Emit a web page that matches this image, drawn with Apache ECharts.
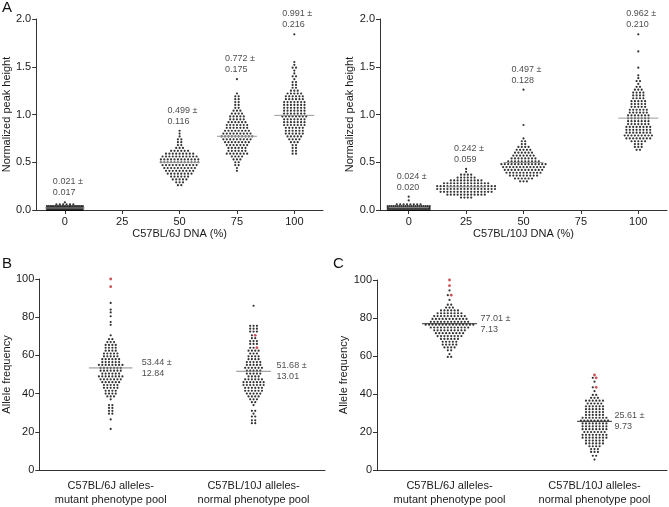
<!DOCTYPE html>
<html><head><meta charset="utf-8">
<script src="https://cdn.jsdelivr.net/npm/echarts@6/dist/echarts.min.js"></script>
<style>html,body{margin:0;padding:0;background:#fff}#c{width:669px;height:507px}</style>
</head><body><div id="c"></div>
<script>
// ---------- DATA ----------
const ticksA = [0, 25, 50, 75, 100];
const centersA6 = [0, 50, 75, 100];
const centersA10 = [0, 25, 50, 100];
const catsBC = ['C57BL/6J alleles-\nmutant phenotype pool', 'C57BL/10J alleles-\nnormal phenotype pool'];

const meansA6 = [0.021, 0.499, 0.772, 0.991];
const sdsA6 = [0.017, 0.116, 0.175, 0.216];
const meansA10 = [0.024, 0.242, 0.497, 0.962];
const sdsA10 = [0.020, 0.059, 0.128, 0.210];
const meansB = [53.44, 51.68];
const sdsB = [12.84, 13.01];
const meansC = [77.01, 25.61];
const sdsC = [7.13, 9.73];

const a6_0 = [0.08,
 0.06,0.06,0.06,0.06,0.06,0.06,
 0.04,0.04,0.04,0.04,0.04,0.04,0.04,0.04,0.04,0.04,0.04,0.04,0.04,0.04,0.04,0.04,0.04,0.04,0.04,0.04,0.04,0.04,
 0.02,0.02,0.02,0.02,0.02,0.02,0.02,0.02,0.02,0.02,0.02,0.02,0.02,0.02,0.02,0.02,0.02,0.02,0.02,0.02,0.02,0.02,0.02,0.02,0.02,0.02,0.02,0.02,0.02,0.02,0.02,0.02,0.02,0.02,0.02,
 0,0,0,0,0,0,0,0,0,0,0,0,0,0,0,0,0,0,0,0,0,0,0,0,0,0,0,0,0,0];
const a6_50 = [0.83, 0.80, 0.77, 0.74,0.74, 0.71,0.71, 0.68,0.68, 0.65,0.65,0.65,
 0.62,0.62,0.62,0.62,0.62,0.62,
 0.59,0.59,0.59,0.59,0.59,0.59,0.59,0.59,0.59,
 0.56,0.56,0.56,0.56,0.56,0.56,0.56,0.56,0.56,0.56,0.56,
 0.53,0.53,0.53,0.53,0.53,0.53,0.53,0.53,0.53,0.53,0.53,0.53,
 0.50,0.50,0.50,0.50,0.50,0.50,0.50,0.50,0.50,0.50,0.50,0.50,
 0.47,0.47,0.47,0.47,0.47,0.47,0.47,0.47,0.47,0.47,0.47,
 0.44,0.44,0.44,0.44,0.44,0.44,0.44,0.44,0.44,0.44,
 0.41,0.41,0.41,0.41,0.41,0.41,0.41,0.41,0.41,
 0.38,0.38,0.38,0.38,0.38,0.38,0.38,0.38,
 0.35,0.35,0.35,0.35,0.35,0.35,
 0.32,0.32,0.32,0.32,0.32,
 0.29,0.29,0.29, 0.26,0.26];
const a6_75 = [1.37, 1.22, 1.19,1.19, 1.16,1.16, 1.13,1.13, 1.10,1.10, 1.07,1.07, 1.04,1.04,1.04,
 1.01,1.01,1.01,1.01, 0.98,0.98,0.98,0.98,0.98, 0.95,0.95,0.95,0.95,0.95,
 0.92,0.92,0.92,0.92,0.92,0.92, 0.89,0.89,0.89,0.89,0.89,0.89,0.89,
 0.86,0.86,0.86,0.86,0.86,0.86,0.86, 0.83,0.83,0.83,0.83,0.83,0.83,0.83,0.83,
 0.80,0.80,0.80,0.80,0.80,0.80,0.80,0.80,0.80,
 0.77,0.77,0.77,0.77,0.77,0.77,0.77,0.77,0.77,0.77,
 0.74,0.74,0.74,0.74,0.74,0.74,0.74,0.74,0.74,
 0.71,0.71,0.71,0.71,0.71,0.71,0.71,0.71,
 0.68,0.68,0.68,0.68,0.68,0.68,0.68,
 0.65,0.65,0.65,0.65,0.65,0.65, 0.62,0.62,0.62,0.62,0.62,0.62,
 0.59,0.59,0.59,0.59,0.59,0.59,0.59, 0.56,0.56,0.56,0.56,
 0.53,0.53,0.53, 0.50,0.50, 0.47,0.47, 0.44, 0.41];
const a6_100 = [1.84, 1.55, 1.52, 1.49,1.49, 1.46, 1.43, 1.40,1.40, 1.37, 1.34,1.34, 1.31,1.31, 1.28,1.28,
 1.25,1.25,1.25, 1.22,1.22,1.22,1.22,1.22, 1.19,1.19,1.19,1.19,1.19,1.19, 1.16,1.16,1.16,1.16,1.16,1.16,
 1.13,1.13,1.13,1.13,1.13,1.13,1.13, 1.10,1.10,1.10,1.10,1.10,1.10,1.10,
 1.07,1.07,1.07,1.07,1.07,1.07,1.07, 1.04,1.04,1.04,1.04,1.04,1.04,1.04,
 1.01,1.01,1.01,1.01,1.01,1.01,1.01, 0.98,0.98,0.98,0.98,0.98,0.98,0.98,0.98,
 0.95,0.95,0.95,0.95,0.95,0.95,0.95, 0.92,0.92,0.92,0.92,0.92,0.92,0.92,
 0.89,0.89,0.89,0.89,0.89,0.89,0.89, 0.86,0.86,0.86,0.86,0.86,0.86,
 0.83,0.83,0.83,0.83,0.83,0.83, 0.80,0.80,0.80,0.80,0.80,0.80,
 0.77,0.77,0.77,0.77,0.77, 0.74,0.74,0.74,0.74, 0.71,0.71,0.71,
 0.68,0.68, 0.65,0.65, 0.62,0.62, 0.59,0.59];

const a10_0 = [0.14, 0.10,
 0.06,0.06,0.06,0.06,0.06,0.06,0.06,0.06,
 0.04,0.04,0.04,0.04,0.04,0.04,0.04,0.04,0.04,0.04,0.04,0.04,0.04,0.04,0.04,0.04,0.04,0.04,0.04,0.04,0.04,0.04,
 0.02,0.02,0.02,0.02,0.02,0.02,0.02,0.02,0.02,0.02,0.02,0.02,0.02,0.02,0.02,0.02,0.02,0.02,0.02,0.02,0.02,0.02,0.02,0.02,0.02,0.02,0.02,0.02,0.02,0.02,0.02,0.02,0.02,
 0,0,0,0,0,0,0,0,0,0,0,0,0,0,0,0,0,0,0,0,0,0,0,0,0,0,0,0];
const a10_25 = [0.43, 0.40, 0.37,0.37,0.37,0.37, 0.34,0.34,0.34,0.34,0.34,0.34,
 0.31,0.31,0.31,0.31,0.31,0.31,0.31,0.31,0.31,0.31,
 0.28,0.28,0.28,0.28,0.28,0.28,0.28,0.28,0.28,0.28,0.28,0.28,0.28,0.28,
 0.25,0.25,0.25,0.25,0.25,0.25,0.25,0.25,0.25,0.25,0.25,0.25,0.25,0.25,0.25,0.25,0.25,0.25,
 0.22,0.22,0.22,0.22,0.22,0.22,0.22,0.22,0.22,0.22,0.22,0.22,0.22,0.22,0.22,0.22,0.22,0.22,
 0.19,0.19,0.19,0.19,0.19,0.19,0.19,0.19,0.19,0.19,0.19,0.19,0.19,0.19,0.19,0.19,
 0.16,0.16,0.16,0.16,0.16,0.16,0.16,0.16,0.16,0.16,0.16,0.16,
 0.13,0.13,0.13,0.13];
const a10_50 = [1.26, 0.89, 0.75, 0.72,0.72, 0.69,0.69, 0.66,0.66,0.66,0.66, 0.63,0.63,0.63,0.63,0.63,
 0.60,0.60,0.60,0.60,0.60,0.60, 0.57,0.57,0.57,0.57,0.57,0.57,0.57,
 0.54,0.54,0.54,0.54,0.54,0.54,0.54,0.54, 0.51,0.51,0.51,0.51,0.51,0.51,0.51,0.51,0.51,0.51,
 0.48,0.48,0.48,0.48,0.48,0.48,0.48,0.48,0.48,0.48,0.48,0.48,0.48,0.48,
 0.45,0.45,0.45,0.45,0.45,0.45,0.45,0.45,0.45,0.45,0.45,0.45,0.45,
 0.42,0.42,0.42,0.42,0.42,0.42,0.42,0.42,0.42,0.42,0.42,0.42,
 0.39,0.39,0.39,0.39,0.39,0.39,0.39,0.39,0.39,0.39,0.39,
 0.36,0.36,0.36,0.36,0.36,0.36,0.36,0.36,0.36,
 0.33,0.33,0.33,0.33,0.33,0.33, 0.30,0.30,0.30];
const a10_100 = [1.84, 1.66, 1.49, 1.41, 1.38, 1.35,1.35, 1.32, 1.29,1.29, 1.26,1.26,1.26,
 1.23,1.23,1.23,1.23, 1.20,1.20,1.20,1.20, 1.17,1.17,1.17,1.17,
 1.14,1.14,1.14,1.14,1.14, 1.11,1.11,1.11,1.11,1.11, 1.08,1.08,1.08,1.08,1.08,
 1.05,1.05,1.05,1.05,1.05,1.05, 1.02,1.02,1.02,1.02,1.02,1.02,
 0.99,0.99,0.99,0.99,0.99,0.99,0.99, 0.96,0.96,0.96,0.96,0.96,0.96,0.96,
 0.93,0.93,0.93,0.93,0.93,0.93,0.93, 0.90,0.90,0.90,0.90,0.90,0.90,0.90,
 0.87,0.87,0.87,0.87,0.87,0.87,0.87,0.87, 0.84,0.84,0.84,0.84,0.84,0.84,0.84,0.84,
 0.81,0.81,0.81,0.81,0.81,0.81,0.81,0.81, 0.78,0.78,0.78,0.78,0.78,0.78,0.78,0.78,0.78,
 0.75,0.75,0.75,0.75,0.75,0.75,0.75,0.75, 0.72,0.72,0.72,0.72,0.72,
 0.69,0.69,0.69, 0.66,0.66,0.66, 0.63,0.63];

const bMut = [87.5, 84, 82.5, 80.5, 77.5, 76, 70.5, 68.5,68.5, 67,67,67, 65.5,65.5,65.5,65.5,
 64,64,64,64, 62.5,62.5,62.5,62.5, 61,61,61,61,61, 59.5,59.5,59.5,59.5,59.5,
 58,58,58,58,58,58, 56.5,56.5,56.5,56.5,56.5,56.5, 55,55,55,55,55,55,55,55,
 53.5,53.5,53.5,53.5,53.5,53.5,53.5, 52,52,52,52,52,52,52, 50.5,50.5,50.5,50.5,50.5,50.5,
 49,49,49,49,49,49,49,49, 47.5,47.5,47.5,47.5,47.5,47.5,47.5, 46,46,46,46,46,46,
 44.5,44.5,44.5,44.5,44.5, 43,43,43,43,43, 41.5,41.5,41.5,41.5, 40,40,40,40,
 38.5,38.5,38.5, 37, 34,34, 32.5,32.5, 31,31, 29.5,29.5, 26.5, 21.5];
const bMutRed = [100, 96];
const bNorm = [86, 75.5,75.5,75.5, 74,74,74, 72.5,72.5,72.5, 70.5, 69,69, 67.5,67.5,67.5, 66,66,66,
 64,64, 62.5,62.5,62.5,62.5, 61,61,61, 59.5,59.5,59.5,59.5, 58,58,58,58,
 56.5,56.5,56.5,56.5,56.5, 55,55,55,55,55, 53.5,53.5,53.5,53.5,53.5,53.5,
 52,52,52,52,52, 50.5,50.5,50.5,50.5,50.5, 49,49,49,49,
 47.5,47.5,47.5,47.5,47.5,47.5, 46,46,46,46,46,46,46, 44.5,44.5,44.5,44.5,44.5,44.5,44.5,
 43,43,43,43,43,43, 41.5,41.5,41.5,41.5,41.5,41.5, 40,40,40,40,40,
 38.5,38.5,38.5,38.5, 37,37,37, 35.5,35.5, 34, 31,31, 29.5, 28,28, 26,26, 24.5,24.5];
const bNormRed = [70.5, 64];

const cMut = [94.5, 92, 89.5, 87,87, 85.5,85.5,85.5, 84,84,84,84,84,84,
 82.5,82.5,82.5,82.5,82.5,82.5,82.5,82.5, 81,81,81,81,81,81,81,81,81,81,
 79.5,79.5,79.5,79.5,79.5,79.5,79.5,79.5,79.5,79.5,79.5,
 78,78,78,78,78,78,78,78,78,78,78,78,
 76.5,76.5,76.5,76.5,76.5,76.5,76.5,76.5,76.5,76.5,76.5,76.5,76.5,76.5,76.5,
 75,75,75,75,75,75,75,75,75,75,75,75,
 73.5,73.5,73.5,73.5,73.5,73.5,73.5,73.5,73.5,73.5,
 72,72,72,72,72,72,72,72,72, 70.5,70.5,70.5,70.5,70.5,70.5,70.5,70.5,
 69,69,69,69,69,69, 67.5,67.5,67.5,67.5,67.5, 66,66,66,66,66,
 64.5,64.5,64.5,64.5, 63,63, 61, 59.5,59.5];
const cMutRed = [100, 97, 92];
const cNorm = [48.5, 46.5, 43.5, 41.5, 39.5,39.5, 38,38,38, 36.5,36.5,36.5,36.5,36.5,36.5,
 35,35,35,35,35, 33.5,33.5,33.5,33.5,33.5,33.5, 32,32,32,32,32,32,
 30.5,30.5,30.5,30.5,30.5,30.5, 29,29,29,29,29,29, 27.5,27.5,27.5,27.5,27.5,27.5,27.5,27.5,
 26,26,26,26,26,26,26,26,26, 24.5,24.5,24.5,24.5,24.5,24.5,24.5,24.5,
 23,23,23,23,23,23,23,23, 21.5,21.5,21.5,21.5,21.5,21.5,21.5,21.5,
 20,20,20,20,20,20,20, 18.5,18.5,18.5,18.5,18.5,18.5,18.5,18.5,
 17,17,17,17,17,17,17,17, 15.5,15.5,15.5,15.5,15.5,15.5, 14,14,14,14,14,14,
 12.5,12.5,12.5,12.5, 11,11,11, 9.5,9.5,9.5, 7.5,7.5, 5.5];
const cNormRed = [50, 48.5, 43.5];

// ---------- LAYOUT ----------
const FONT = '"Liberation Sans", Arial, Helvetica, sans-serif';
const TXT = '#1a1a1a';
const SP = 3.4;      // horizontal dot spacing, px
const DOT = 2.2;     // dot size, px
const grids = [
  {left: 36, top: 19, width: 287, height: 191},
  {left: 380, top: 19, width: 287, height: 191},
  {left: 36, top: 279, width: 289, height: 192},
  {left: 377, top: 280, width: 290, height: 191}
];
const pxA6 = 287 / 125, pxA10 = 287 / 125, pxB = 289 / 2, pxC = 290 / 2;

function swarm(black, red, center, ppu, maxHalf) {
  const rows = new Map();
  black.forEach(v => { const k = v.toFixed(3); if (!rows.has(k)) rows.set(k, []); rows.get(k).push({v, r: false}); });
  red.forEach(v => { const k = v.toFixed(3); if (!rows.has(k)) rows.set(k, []); rows.get(k).push({v, r: true}); });
  const b = [], r = [];
  rows.forEach(list => {
    const n = list.length;
    let dx = SP;
    if (n > 1 && (n - 1) * dx / 2 > maxHalf) dx = 2 * maxHalf / (n - 1);
    list.forEach((p, i) => {
      const x = center + ((i - (n - 1) / 2) * dx) / ppu;
      (p.r ? r : b).push([x, p.v]);
    });
  });
  return {b, r};
}

function panel(gi, cfg) {
  const bl = [], rd = [];
  cfg.centers.forEach((c, g) => {
    const s = swarm(cfg.blacks[g], cfg.reds[g], c, cfg.ppu, cfg.maxHalf[g]);
    bl.push(...s.b); rd.push(...s.r);
  });
  const base = {xAxisIndex: gi, yAxisIndex: gi, silent: true, animation: false};
  const out = [];
  out.push(Object.assign({type: 'scatter', data: bl, symbol: 'circle', symbolSize: DOT, clip: false,
    itemStyle: {color: '#000'}}, base));
  if (rd.length) out.push(Object.assign({type: 'scatter', data: rd, symbol: 'circle', symbolSize: DOT + 0.6, clip: false,
    itemStyle: {color: '#c1272d'}, z: 3}, base));
  cfg.centers.forEach((c, g) => {
    const hw = cfg.lineHalf[g] / cfg.ppu;
    out.push(Object.assign({type: 'line', data: [[c - hw, cfg.means[g]], [c + hw, cfg.means[g]]], symbol: 'none',
      lineStyle: {color: cfg.lineColor, width: 1}, z: 4}, base));
  });
  const ann = cfg.centers.map((c, g) => {
    const txt = cfg.means[g].toFixed(cfg.digits) + ' \u00b1\n' + cfg.sds[g].toFixed(cfg.digits);
    if (cfg.annTop) {
      const top = Math.max(...cfg.blacks[g], ...cfg.reds[g]);
      return {value: [c, top], label: {show: true, position: 'top', distance: 4, align: 'left', offset: [-12, 0], formatter: txt}};
    }
    return {value: [c, cfg.means[g]], label: {show: true, position: 'right', distance: cfg.annDx[g], align: 'left', verticalAlign: 'middle', formatter: txt}};
  });
  out.push(Object.assign({type: 'scatter', data: ann, symbolSize: 0.1, clip: false, z: 5,
    itemStyle: {color: 'rgba(0,0,0,0)'},
    label: {fontSize: 9, lineHeight: 11, color: TXT, fontFamily: FONT}}, base));
  return out;
}

const series = [].concat(
  panel(0, {centers: centersA6, blacks: [a6_0, a6_50, a6_75, a6_100], reds: [[], [], [], []], means: meansA6, sds: sdsA6,
    ppu: pxA6, maxHalf: [18, 60, 60, 60], lineHalf: [20, 20, 20, 20], lineColor: '#9a9a9a', digits: 3, annTop: true}),
  panel(1, {centers: centersA10, blacks: [a10_0, a10_25, a10_50, a10_100], reds: [[], [], [], []], means: meansA10, sds: sdsA10,
    ppu: pxA10, maxHalf: [21, 60, 60, 60], lineHalf: [20, 20, 20, 20], lineColor: '#9a9a9a', digits: 3, annTop: true}),
  panel(2, {centers: [0.5, 1.5], blacks: [bMut, bNorm], reds: [bMutRed, bNormRed], means: meansB, sds: sdsB,
    ppu: pxB, maxHalf: [60, 60], lineHalf: [22, 17.5], lineColor: '#8a8a8a', digits: 2, annTop: false, annDx: [31, 23]}),
  panel(3, {centers: [0.5, 1.5], blacks: [cMut, cNorm], reds: [cMutRed, cNormRed], means: meansC, sds: sdsC,
    ppu: pxC, maxHalf: [60, 60], lineHalf: [27.5, 17.5], lineColor: '#333', digits: 2, annTop: false, annDx: [31, 20]})
);

const axisLineStyle = {show: true, onZero: false, lineStyle: {color: '#333', width: 1}};
const tickStyle = {lineStyle: {color: '#333', width: 1}};
const lblStyle = {fontSize: 11, color: TXT, fontFamily: FONT};

function xA(gi, name) {
  return {gridIndex: gi, type: 'value', min: -12.5, max: 112.5, name, nameLocation: 'middle', nameGap: 18,
    nameTextStyle: Object.assign({}, lblStyle),
    axisLine: axisLineStyle, splitLine: {show: false},
    axisTick: Object.assign({show: true, length: 4, customValues: ticksA}, tickStyle),
    axisLabel: Object.assign({customValues: ticksA, margin: 6}, lblStyle)};
}
function yA(gi) {
  return {gridIndex: gi, type: 'value', min: 0, max: 2, interval: 0.5, name: 'Normalized peak height', nameLocation: 'middle', nameGap: 24,
    nameTextStyle: Object.assign({}, lblStyle), axisLine: axisLineStyle, splitLine: {show: false},
    axisTick: Object.assign({show: true, length: 4}, tickStyle),
    axisLabel: Object.assign({margin: 5, formatter: v => v.toFixed(1)}, lblStyle)};
}
function xBC(gi) {
  return {gridIndex: gi, type: 'value', min: 0, max: 2, axisLine: axisLineStyle, splitLine: {show: false},
    axisTick: {show: false},
    axisLabel: Object.assign({customValues: [0.5, 1.5], margin: 9, lineHeight: 14, formatter: v => catsBC[Math.round(v - 0.5)]}, lblStyle)};
}
function yBC(gi) {
  return {gridIndex: gi, type: 'value', min: 0, max: 100, interval: 20, name: 'Allele frequency', nameLocation: 'middle', nameGap: 24,
    nameTextStyle: Object.assign({}, lblStyle), axisLine: axisLineStyle, splitLine: {show: false},
    axisTick: Object.assign({show: true, length: 4}, tickStyle),
    axisLabel: Object.assign({margin: 5}, lblStyle)};
}

const titleStyle = {fontSize: 15, fontWeight: 'normal', color: '#111', fontFamily: FONT};
const option = {
  backgroundColor: '#fff',
  animation: false,
  title: [
    {text: 'A', left: 2, top: 0, textStyle: titleStyle, padding: 0},
    {text: 'B', left: 2, top: 256, textStyle: titleStyle, padding: 0},
    {text: 'C', left: 333, top: 256, textStyle: titleStyle, padding: 0}
  ],
  grid: grids,
  xAxis: [xA(0, 'C57BL/6J DNA (%)'), xA(1, 'C57BL/10J DNA (%)'), xBC(2), xBC(3)],
  yAxis: [yA(0), yA(1), yBC(2), yBC(3)],
  series
};
const chart = echarts.init(document.getElementById('c'), null, {renderer: 'canvas'});
chart.setOption(option);
</script>
</body></html>
